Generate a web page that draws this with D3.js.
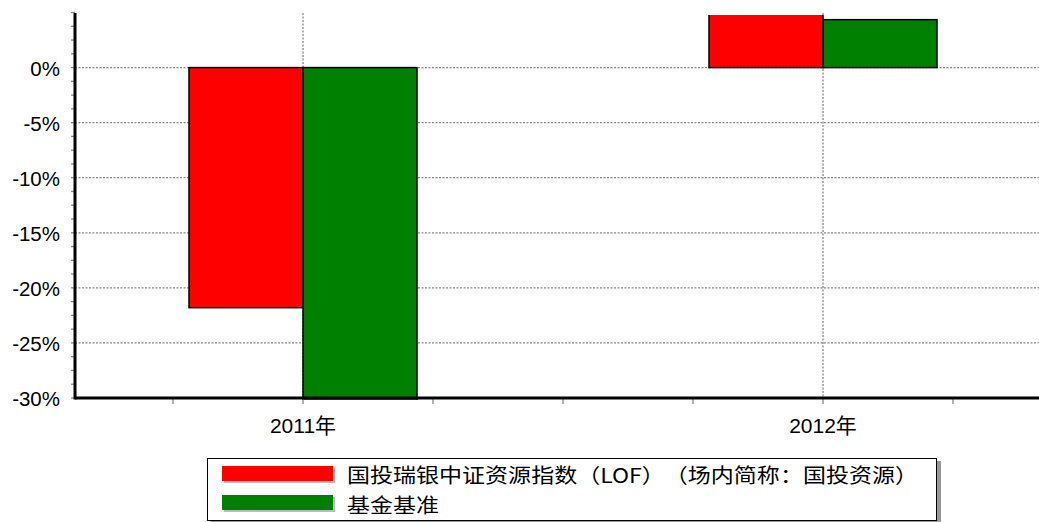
<!DOCTYPE html>
<html>
<head>
<meta charset="utf-8">
<script src="https://cdn.jsdelivr.net/npm/d3@7"></script>
<style>
  body { margin: 0; background: #fff; }
  text { font-family: "Liberation Sans", Arial, "Noto Sans CJK SC", sans-serif; }
  .lg text { text-spacing-trim: space-all; }
</style>
</head>
<body>
<div id="chart"></div>
<script>
const years = ["2011年", "2012年"];
const seriesNames = ["国投瑞银中证资源指数（LOF）（场内简称：国投资源）", "基金基准"];
const legendWidths = [571, 92];
const fundValues = [-21.8, 5.6];
const benchValues = [-30.3, 4.35];
const colors = ["#ff0000", "#008000"];
const yTicks = [0, -5, -10, -15, -20, -25, -30];

const w = 1039, h = 522;
const pLeft = 75, pRight = 1039, pTop = 13, pBottom = 398;

const svg = d3.select("#chart").append("svg")
  .attr("width", w).attr("height", h);

const y = d3.scaleLinear().domain([-30, 5]).range([pBottom, pTop - 0.5]);
// each category sits on a 520px band; 4 ticks per band
const x = d3.scalePoint().domain(years).range([303, 823]);
const xMinor = d3.scaleLinear().domain([0, 1]).range([303, 823]);
const sub = d3.scaleBand().domain([0, 1]).range([-114, 114]).padding(0);

svg.append("defs").append("clipPath").attr("id", "plot")
  .append("rect").attr("x", pLeft).attr("y", pTop + 2)
  .attr("width", pRight - pLeft).attr("height", pBottom - pTop);

// grid
svg.append("g").selectAll("line").data(yTicks).join("line")
  .attr("x1", pLeft).attr("x2", pRight)
  .attr("y1", d => y(d)).attr("y2", d => y(d))
  .attr("stroke", "#888").attr("stroke-width", 1.3).attr("stroke-dasharray", "2,1.5");
svg.append("g").selectAll("line").data(years).join("line")
  .attr("x1", d => x(d)).attr("x2", d => x(d))
  .attr("y1", pTop).attr("y2", pBottom)
  .attr("stroke", "#888").attr("stroke-width", 1.3).attr("stroke-dasharray", "2,1.5");

// bars
const bars = svg.append("g").attr("clip-path", "url(#plot)");
[fundValues, benchValues].forEach((vals, si) => {
  bars.selectAll(null).data(years).join("rect")
    .attr("x", d => x(d) + sub(si))
    .attr("width", sub.bandwidth())
    .attr("y", (d, i) => y(Math.max(0, vals[i])))
    .attr("height", (d, i) => Math.abs(y(vals[i]) - y(0)))
    .attr("fill", colors[si])
    .attr("stroke", "#000").attr("stroke-width", 1.5);
});

// y axis minor ticks
const minor = d3.range(-30, 5.01, 1.25);
svg.append("g").selectAll("line").data(minor).join("line")
  .attr("x1", pLeft - 4).attr("x2", pLeft)
  .attr("y1", d => y(d)).attr("y2", d => y(d))
  .attr("stroke", "#888").attr("stroke-width", 1.3);

// x axis ticks every quarter band
const xt = d3.range(-1, 2.01, 0.25).map(t => xMinor(t)).filter(v => v > pLeft && v < pRight);
svg.append("g").selectAll("line").data(xt).join("line")
  .attr("x1", d => d).attr("x2", d => d)
  .attr("y1", pBottom).attr("y2", pBottom + 6)
  .attr("stroke", "#888").attr("stroke-width", 1.3);

// axis lines
svg.append("line").attr("x1", pLeft).attr("x2", pLeft).attr("y1", pTop).attr("y2", pBottom + 1.5)
  .attr("stroke", "#000").attr("stroke-width", 3);
svg.append("line").attr("x1", pLeft).attr("x2", pRight).attr("y1", pBottom).attr("y2", pBottom)
  .attr("stroke", "#000").attr("stroke-width", 3);

// labels
svg.append("g").selectAll("text").data(yTicks).join("text")
  .attr("x", 60).attr("y", d => y(d) + 8)
  .attr("text-anchor", "end").attr("font-size", 20.5)
  .text(d => d + "%");
svg.append("g").selectAll("text").data(years).join("text")
  .attr("x", d => x(d)).attr("y", 433)
  .attr("text-anchor", "middle").attr("font-size", 21)
  .text(d => d);

// legend
const lg = svg.append("g").attr("class", "lg");
lg.append("rect").attr("x", 210).attr("y", 461).attr("width", 731).attr("height", 62)
  .attr("fill", "#999");
lg.append("rect").attr("x", 207.5).attr("y", 458.5).attr("width", 729).attr("height", 62)
  .attr("fill", "#fff").attr("stroke", "#000").attr("stroke-width", 1);
seriesNames.forEach((name, i) => {
  const yy = 466 + i * 29;
  lg.append("rect").attr("x", 224).attr("y", yy + 2).attr("width", 111).attr("height", 15)
    .attr("fill", "#bbb");
  lg.append("rect").attr("x", 222).attr("y", yy).attr("width", 111).attr("height", 15)
    .attr("fill", colors[i]);
  lg.append("text").attr("x", 347).attr("y", 483 + i * 30)
    .attr("font-size", 20)
    .attr("textLength", legendWidths[i])
    .attr("lengthAdjust", "spacingAndGlyphs")
    .style("font-family", "'Noto Sans CJK SC', sans-serif")
    .text(name);
});
</script>
</body>
</html>
